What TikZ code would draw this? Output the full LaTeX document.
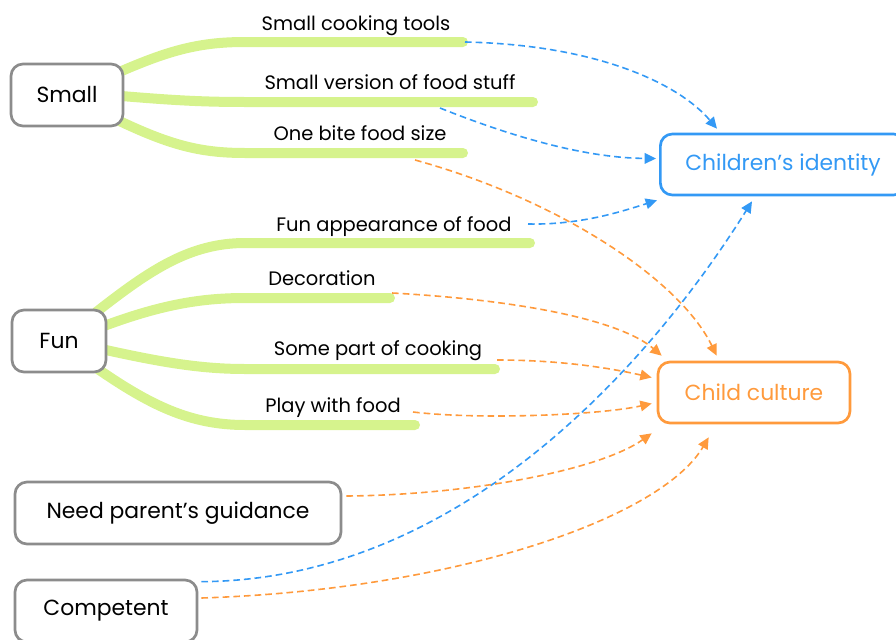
\documentclass[tikz,border=0pt]{standalone}
\usepackage{fontspec}
\setmainfont{Poppins}
\usetikzlibrary{arrows.meta,calc}
\pgfdeclarelayer{bg}
\pgfsetlayers{bg,main}
\definecolor{boxgray}{HTML}{8C8C8C}
\definecolor{leaf}{HTML}{D6F38D}
\definecolor{idblue}{HTML}{3399F5}
\definecolor{cultorange}{HTML}{FF9A3C}
\begin{document}
\begin{tikzpicture}[x=0.75pt,y=-0.75pt,
  boxtxt/.style={font=\fontsize{16.4}{18}\selectfont},
  box/.style={boxtxt, draw=boxgray, line width=2pt, rounded corners=9pt,
    fill=white, inner sep=0pt, minimum height=46.5pt},
  goal/.style={box, line width=2pt, minimum height=45.75pt},
  branch/.style={draw=leaf, line width=7.5pt, line cap=round},
  lbl/.style={font=\fontsize{14.6}{16}\selectfont, inner sep=0pt, anchor=base},
  link/.style={dash pattern=on 5pt off 3pt, line width=1.2pt},
  tobl/.style={link, draw=idblue, -{Triangle[length=8.5pt,width=8pt,fill=idblue]}},
  toor/.style={link, draw=cultorange, -{Triangle[length=8.5pt,width=8pt,fill=cultorange]}}]
\useasboundingbox (0,0) rectangle (896,639);

% category boxes
\node[box, minimum width=84pt]    (sm)  at (67,95)   {Small};
\node[box, minimum width=70.5pt]  (fun) at (59,341)  {Fun};
\node[box, minimum width=244.5pt] (par) at (178,513) {Need parent's guidance};
\node[box, minimum width=136.5pt] (cmp) at (106,611) {Competent};

% target boxes
\node[goal, draw=idblue, text=idblue, minimum width=184pt] (ci) at (783,164.5) {Children's identity};
\node[goal, draw=cultorange, text=cultorange, minimum width=144pt] (cc) at (754,392.5) {Child culture};

% branch labels
\node[lbl] (t1) at (356,30)  {Small cooking tools};
\node[lbl] (t2) at (390,89)  {Small version of food stuff};
\node[lbl] (t3) at (360,140) {One bite food size};
\node[lbl] (t4) at (394,231) {Fun appearance of food};
\node[lbl] (t5) at (322,285) {Decoration};
\node[lbl] (t6) at (378,355) {Some part of cooking};
\node[lbl] (t7) at (333,412) {Play with food};

% branch ends
\coordinate (e1) at (463,42);
\coordinate (e2) at (533,102);
\coordinate (e3) at (463,153);
\coordinate (e4) at (530,243);
\coordinate (e5) at (390,298);
\coordinate (e6) at (495,369);
\coordinate (e7) at (415,425);

\begin{pgfonlayer}{bg}
  \draw[branch] ($(sm.east)+(-5,-23)$) .. controls (170,50) and (200,42) .. (245,42) -- (e1);
  \draw[branch] ($(sm.east)+(-3,1)$) .. controls (170,100) and (200,102) .. (245,102) -- (e2);
  \draw[branch] ($(sm.east)+(-7,25)$) .. controls (170,145) and (200,153) .. (245,153) -- (e3);
  \draw[branch] ($(fun.east)+(-11,-29)$) .. controls (150,270) and (190,243) .. (245,243) -- (e4);
  \draw[branch] ($(fun.east)+(-6,-14)$) .. controls (160,305) and (200,298) .. (245,298) -- (e5);
  \draw[branch] ($(fun.east)+(-6,8)$) .. controls (160,362) and (200,369) .. (245,369) -- (e6);
  \draw[branch] ($(fun.east)+(-11,27)$) .. controls (150,405) and (190,425) .. (245,425) -- (e7);
\end{pgfonlayer}

% links to children's identity
\draw[tobl] ($(e1)+(2,0)$) .. controls (600,45) and (680,85) .. ($(ci.north west)+(58,-4)$);
\draw[tobl] ($(e2)+(-93,6)$) .. controls (520,140) and (590,158) .. ($(ci.west)+(-3,-6)$);
\draw[tobl] ($(e4)+(-2,-19)$) .. controls (580,225) and (620,212) .. ($(ci.south west)+(-2,4)$);
\draw[tobl] ($(cmp.north east)+(3,3)$) .. controls (450,580) and (640,380) .. ($(ci.south west)+(93,5)$);

% links to child culture
\draw[toor] ($(e3)+(-48,7)$) .. controls (560,200) and (680,280) .. ($(cc.north west)+(60,-5)$);
\draw[toor] ($(e5)+(2,-5)$) .. controls (520,300) and (620,320) .. ($(cc.north west)+(5,-5)$);
\draw[toor] ($(e6)+(2,-9)$) .. controls (560,360) and (610,368) .. ($(cc.west)+(-5,-15)$);
\draw[toor] ($(e7)+(-2,-13)$) .. controls (480,420) and (600,415) .. ($(cc.west)+(-5,11)$);
\draw[toor] ($(par.east)+(4,-17)$) .. controls (470,495) and (600,470) .. ($(cc.south west)+(-5,9)$);
\draw[toor] ($(cmp.east)+(3,-13)$) .. controls (450,590) and (660,520) .. ($(cc.south west)+(52,13)$);
\end{tikzpicture}
\end{document}
